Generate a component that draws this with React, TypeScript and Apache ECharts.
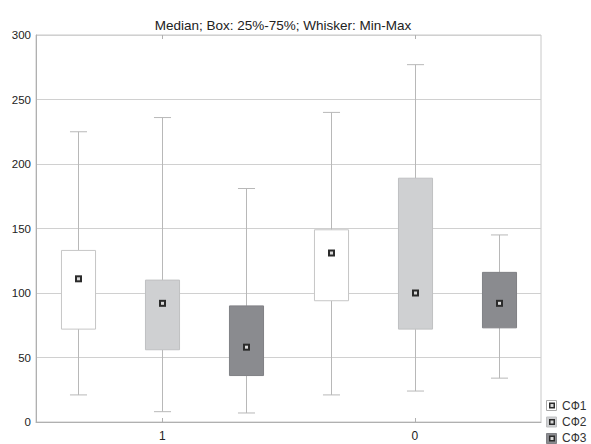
import React, { useEffect, useRef } from "react";
import * as echarts from "echarts";

const categories = ["1", "0"];
const seriesNames = ["СФ1", "СФ2", "СФ3"];
// [min, q1, median, q3, max] per category
const sf1 = [
  [21, 72, 111, 133, 225],
  [21, 94, 131, 149, 240],
];
const sf2 = [
  [8, 56, 92, 110, 236],
  [24, 72, 100, 189, 277],
];
const sf3 = [
  [7, 36, 58, 90, 181],
  [34, 73, 92, 116, 145],
];
const yTicks = { min: 0, max: 300, interval: 50 };

const fills = ["#ffffff", "#cfd0d2", "#8a8b8f"];
const strokes = ["#c6c6c6", "#bfc0c2", "#808185"];
const whiskerColor = "#b8b8b8";
const FONT = "Liberation Sans, Arial, sans-serif";

export default function App() {
  const ref = useRef<HTMLDivElement>(null);
  useEffect(() => {
    if (!ref.current) return;
    const chart = echarts.init(ref.current, null, { renderer: "svg" });
    const all = [sf1, sf2, sf3];
    const series = all.map((arr, si) => ({
      type: "custom",
      name: seriesNames[si],
      data: arr.map((v, ci) => [ci, ...v]),
      encode: { x: 0, y: [1, 2, 3, 4, 5] },
      renderItem: (params: any, api: any) => {
        const ci = api.value(0);
        const vmin = api.value(1);
        const q1 = api.value(2);
        const med = api.value(3);
        const q3 = api.value(4);
        const vmax = api.value(5);
        const bandW = api.size([1, 0])[0];
        const off = ((si - 1) * bandW) / 3;
        const cx = Math.round(api.coord([ci, 0])[0] + off) + 0.5;
        const yMin = api.coord([ci, vmin])[1];
        const yQ1 = api.coord([ci, q1])[1];
        const yMed = api.coord([ci, med])[1];
        const yQ3 = api.coord([ci, q3])[1];
        const yMax = api.coord([ci, vmax])[1];
        const boxW = bandW * 0.135;
        const capW = boxW * 0.5;
        const ls = { stroke: whiskerColor, lineWidth: 1 };
        return {
          type: "group",
          children: [
            { type: "line", shape: { x1: cx, y1: yMax, x2: cx, y2: yQ3 }, style: ls },
            { type: "line", shape: { x1: cx, y1: yQ1, x2: cx, y2: yMin }, style: ls },
            { type: "line", shape: { x1: cx - capW / 2, y1: yMax, x2: cx + capW / 2, y2: yMax }, style: ls },
            { type: "line", shape: { x1: cx - capW / 2, y1: yMin, x2: cx + capW / 2, y2: yMin }, style: ls },
            {
              type: "rect",
              shape: { x: cx - boxW / 2, y: yQ3, width: boxW, height: yQ1 - yQ3 },
              style: { fill: fills[si], stroke: strokes[si], lineWidth: 1 },
            },
            {
              type: "rect",
              shape: { x: cx - 3.5, y: yMed - 3.5, width: 7, height: 7 },
              style: { fill: "#2b2b2b" },
            },
            {
              type: "rect",
              shape: { x: cx - 1.5, y: yMed - 1.5, width: 3, height: 3 },
              style: { fill: "#d8d8d8" },
            },
          ],
        };
      },
    }));

    const legendGraphics: any[] = [];
    seriesNames.forEach((n, i) => {
      const y0 = 400 + i * 16.5;
      legendGraphics.push({
        type: "rect",
        shape: { x: 546.5, y: y0 + 0.5, width: 10, height: 10 },
        style: { fill: fills[i], stroke: i === 0 ? "#aaaaaa" : strokes[i], lineWidth: 1 },
      });
      legendGraphics.push({
        type: "rect",
        shape: { x: 549, y: y0 + 2.5, width: 6, height: 6 },
        style: { fill: "#2b2b2b" },
      });
      legendGraphics.push({
        type: "rect",
        shape: { x: 550.5, y: y0 + 4, width: 3, height: 3 },
        style: { fill: "#d8d8d8" },
      });
      legendGraphics.push({
        type: "text",
        x: 562,
        y: Math.min(y0 + 5.5, 437.5),
        style: {
          text: n,
          fontSize: 12,
          fontFamily: FONT,
          fill: "#333333",
          verticalAlign: "middle",
        },
      });
    });

    chart.setOption({
      animation: false,
      title: {
        text: "Median; Box: 25%-75%; Whisker: Min-Max",
        left: 278,
        textAlign: "center",
        top: 13,
        textStyle: {
          fontSize: 13.5,
          fontWeight: "normal",
          color: "#222222",
          fontFamily: FONT,
        },
      },
      grid: {
        left: 36,
        right: 50,
        top: 35,
        bottom: 22,
        show: true,
        borderColor: "#c8c8c8",
        borderWidth: 1,
      },
      xAxis: [
        {
          type: "category",
          data: categories,
          position: "bottom",
          axisLine: { lineStyle: { color: "#b0b0b0" } },
          axisTick: { show: true, alignWithLabel: true, inside: true, length: 4, lineStyle: { color: "#b0b0b0" } },
          axisLabel: {
            fontSize: 12,
            color: "#222222",
            margin: 8,
            fontFamily: FONT,
          },
          splitLine: { show: false },
        },
        {
          type: "category",
          data: categories,
          position: "top",
          axisLine: { show: false },
          axisTick: { show: true, alignWithLabel: true, inside: true, length: 4, lineStyle: { color: "#b0b0b0" } },
          axisLabel: { show: false },
          splitLine: { show: false },
        },
      ],
      yAxis: {
        type: "value",
        min: yTicks.min,
        max: yTicks.max,
        interval: yTicks.interval,
        axisLine: { show: true, lineStyle: { color: "#b0b0b0" } },
        axisTick: { show: false },
        axisLabel: {
          fontSize: 11.5,
          color: "#222222",
          margin: 5,
          fontFamily: FONT,
        },
        splitLine: { show: true, lineStyle: { color: "#d0d0d0", width: 1 } },
      },
      series,
      graphic: legendGraphics,
    });
    return () => chart.dispose();
  }, []);
  return (
    <div
      ref={ref}
      style={{ position: "absolute", left: 0, top: 0, width: 591, height: 444, background: "#ffffff" }}
    />
  );
}
